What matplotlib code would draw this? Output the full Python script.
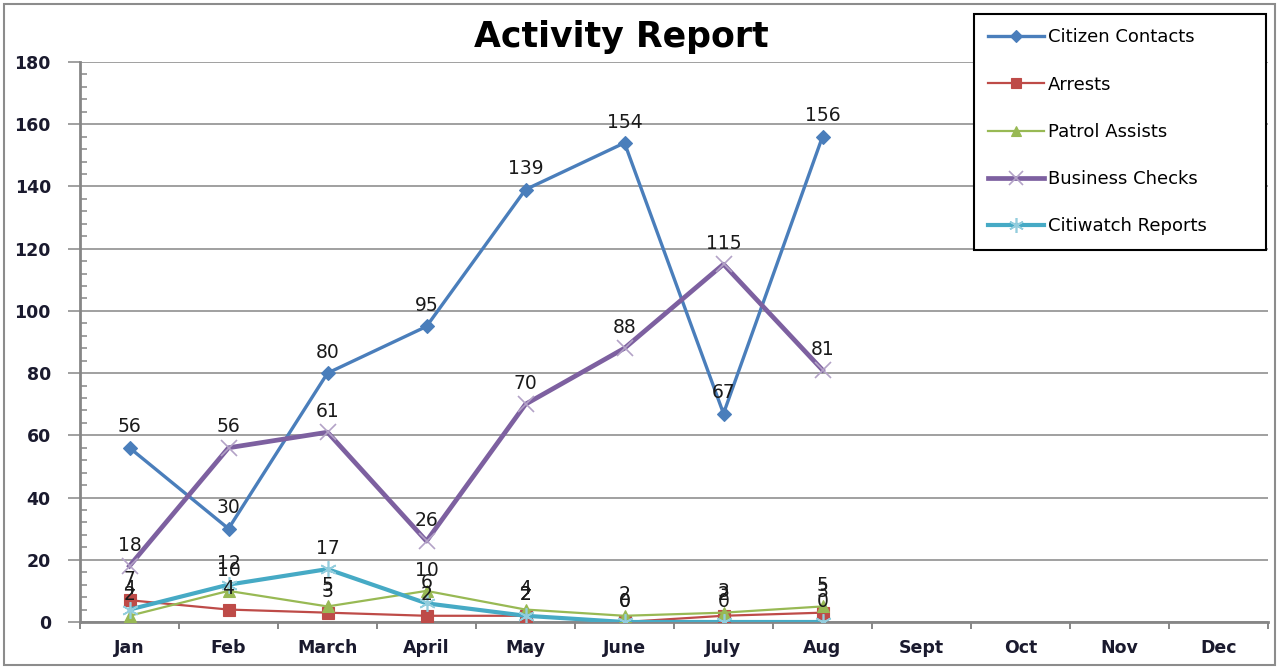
import matplotlib
matplotlib.use("Agg")
import matplotlib.pyplot as plt
from matplotlib.patches import Rectangle
from matplotlib.ticker import MultipleLocator, FixedLocator
import numpy as np

months = ["Jan", "Feb", "March", "April", "May", "June", "July", "Aug",
          "Sept", "Oct", "Nov", "Dec"]
citizen_contacts = [56, 30, 80, 95, 139, 154, 67, 156]
arrests = [7, 4, 3, 2, 2, 0, 2, 3]
patrol_assists = [2, 10, 5, 10, 4, 2, 3, 5]
business_checks = [18, 56, 61, 26, 70, 88, 115, 81]
citiwatch_reports = [4, 12, 17, 6, 2, 0, 0, 0]

series = [
    ("Citizen Contacts", citizen_contacts, "#4A7EBB", "D", 2.4, 7, "#4A7EBB"),
    ("Arrests", arrests, "#BE4B48", "s", 1.6, 8.5, "#BE4B48"),
    ("Patrol Assists", patrol_assists, "#98B954", "^", 1.6, 8, "#98B954"),
    ("Business Checks", business_checks, "#7D60A0", "x", 3.4, 11, "#B3A2C7"),
    ("Citiwatch Reports", citiwatch_reports, "#46AAC5", (6, 2, 0), 3.0, 12, "#93CDDD"),
]

fig = plt.figure(figsize=(12.78, 6.69), dpi=100)
ax = fig.add_axes([80/1278, 47/669, (1268-80)/1278, (622-62)/669])

x = np.arange(len(months))
for name, vals, color, marker, lw, ms, mcolor in series:
    xs = x[:len(vals)]
    ax.plot(xs, vals, color=color, lw=lw, marker=marker, markersize=ms,
            markerfacecolor=mcolor, markeredgecolor=mcolor,
            markeredgewidth=1.2 if marker in ("x", (6, 2, 0)) else 0.8,
            label=name, zorder=3)
    for xi, v in zip(xs, vals):
        ax.annotate(str(v), (xi, v), xytext=(0, 15), textcoords="offset points",
                    ha="center", va="center", fontsize=13.5, color="#1a1a1a",
                    zorder=5)

ax.set_xlim(-0.5, len(months) - 0.5)
ax.set_ylim(0, 180)
ax.yaxis.set_major_locator(MultipleLocator(20))
ax.yaxis.set_minor_locator(MultipleLocator(4))
ax.set_xticks(x)
ax.set_xticklabels(months)
ax.xaxis.set_minor_locator(FixedLocator(np.arange(-0.5, len(months), 1.0)))

ax.grid(axis="y", which="major", color="#868686", lw=1.1)
ax.set_axisbelow(True)
for s in ("top", "right"):
    ax.spines[s].set_visible(False)
for s in ("left", "bottom"):
    ax.spines[s].set_color("#868686")
    ax.spines[s].set_linewidth(2)

ax.tick_params(axis="y", which="major", direction="out", length=9, width=1.1,
               color="#868686", labelsize=12.5, pad=12)
ax.tick_params(axis="y", which="minor", direction="in", length=5, width=1.1,
               color="#868686")
ax.tick_params(axis="x", which="major", length=0, labelsize=12.5, pad=12)
ax.tick_params(axis="x", which="minor", direction="out", length=5, width=1.4,
               color="#868686")
for lab in ax.get_xticklabels() + ax.get_yticklabels():
    lab.set_fontweight("bold")
    lab.set_color("#1a1a2e")

fig.text(621/1278, 1 - 37/669, "Activity Report", ha="center", va="center",
         fontsize=25, fontweight="bold", color="black")

leg = fig.legend(loc="upper left",
                 bbox_to_anchor=(974/1278, 1 - 252/669, 292/1278, 238/669),
                 mode="expand",
                 frameon=True, fancybox=False, fontsize=13, framealpha=1,
                 labelspacing=1.62, handlelength=3.1, handletextpad=0.2,
                 borderpad=0.8, borderaxespad=0, markerscale=0.9)
leg.get_frame().set_edgecolor("black")
leg.get_frame().set_linewidth(1.5)

fig.patches.append(Rectangle((4/1278, 4/669), 1271/1278, 661/669,
                             transform=fig.transFigure, fill=False,
                             edgecolor="#8c8c8c", lw=1.5))

fig.savefig("out.png", dpi=100)
